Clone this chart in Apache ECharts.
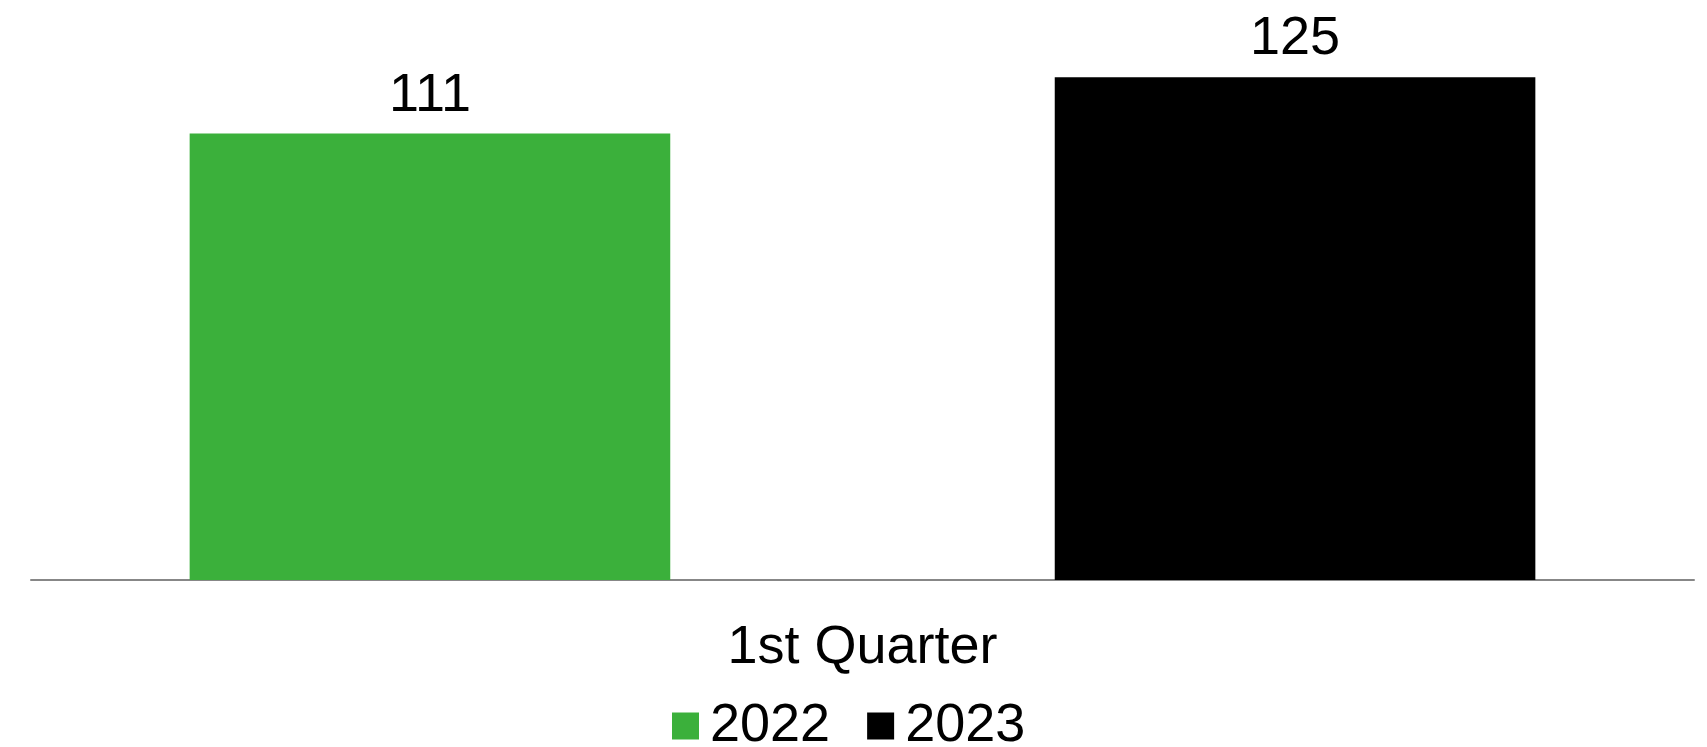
<!DOCTYPE html>
<html>
<head>
<meta charset="utf-8">
<script src="https://cdn.jsdelivr.net/npm/echarts@6/dist/echarts.min.js"></script>
<style>
  html, body { margin: 0; padding: 0; background: #ffffff; }
  #chart { width: 1707px; height: 747px; }
</style>
</head>
<body>
<div id="chart"></div>
<script>
// Quarterly comparison: one category, two years
const categories = ['1st Quarter'];
const seriesNames = ['2022', '2023'];
const values2022 = [111];
const values2023 = [125];
const seriesColors = ['#3BB03B', '#000000'];

const FONT = '"Liberation Sans", Arial, sans-serif';
const FONT_SIZE = 54;

const chart = echarts.init(document.getElementById('chart'), null, { renderer: 'canvas' });

const labelStyle = {
  show: true,
  position: 'top',
  distance: 11,
  fontFamily: FONT,
  fontSize: FONT_SIZE,
  color: '#000000'
};

chart.setOption({
  animation: false,
  backgroundColor: '#ffffff',
  grid: { left: 31, right: 13, top: 17, bottom: 167, containLabel: false },
  legend: {
    data: seriesNames,
    left: 667,
    top: 694,
    icon: 'path://M0,0h10v10h-10z',
    itemWidth: 39,
    itemHeight: 27,
    itemGap: 37,
    textStyle: { fontFamily: FONT, fontSize: FONT_SIZE, color: '#000000' }
  },
  xAxis: {
    type: 'category',
    data: categories,
    axisLine: { show: true, lineStyle: { color: '#878787', width: 2 } },
    axisTick: { show: false },
    axisLabel: { margin: 41, fontFamily: FONT, fontSize: FONT_SIZE, color: '#000000' }
  },
  yAxis: {
    type: 'value',
    min: 0,
    max: 140,
    interval: 20,
    show: false,
    splitLine: { show: false }
  },
  series: [
    {
      name: seriesNames[0],
      type: 'bar',
      data: values2022,
      barWidth: '28.9%',
      barGap: '80%',
      itemStyle: { color: seriesColors[0] },
      label: labelStyle
    },
    {
      name: seriesNames[1],
      type: 'bar',
      data: values2023,
      barWidth: '28.9%',
      barGap: '80%',
      itemStyle: { color: seriesColors[1] },
      label: labelStyle
    }
  ]
});
</script>
</body>
</html>
